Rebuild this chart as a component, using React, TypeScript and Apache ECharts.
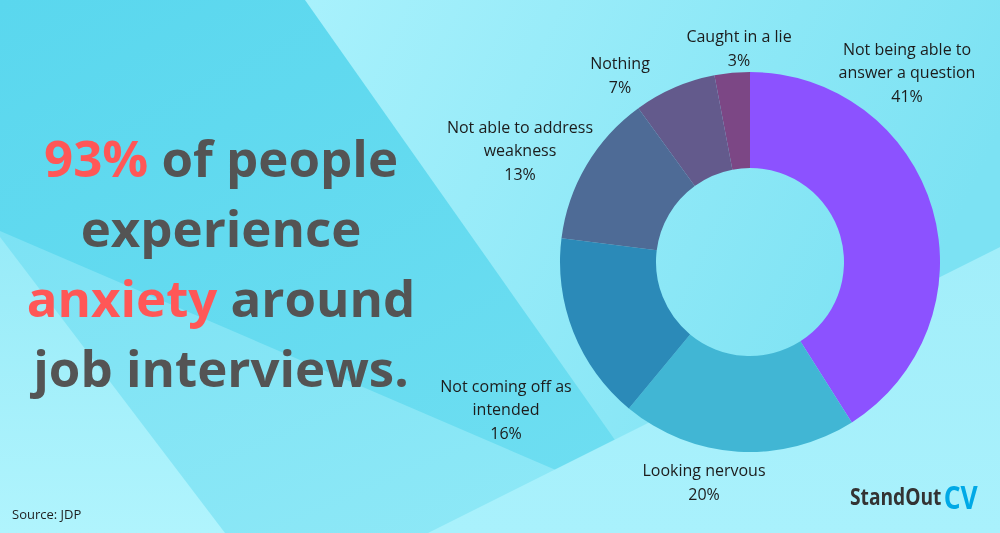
import React, { useEffect, useRef } from "react";
import * as echarts from "echarts";

const categories = [
  "Not being able to\nanswer a question",
  "Looking nervous",
  "Not coming off as\nintended",
  "Not able to address\nweakness",
  "Nothing",
  "Caught in a lie",
];
const values = [41, 20, 16, 13, 7, 3];
const sliceColors = ["#8c52ff", "#41b6d4", "#2b8ab8", "#4e6b96", "#635a8c", "#7c4785"];
// label block centres (layout only)
const labelAnchors: [number, number][] = [
  [907, 72],
  [704, 482],
  [506, 409],
  [520, 150],
  [620, 75],
  [739, 48],
];

const headline = "{r|93%} of people\nexperience\n{r|anxiety} around\njob interviews.";

export default function App() {
  const ref = useRef<HTMLDivElement>(null);
  useEffect(() => {
    if (!ref.current) return;
    const chart = echarts.init(ref.current, null, { renderer: "svg" });
    const lin = (x: number, y: number, x2: number, y2: number, c1: string, c2: string) => ({
      type: "linear", x, y, x2, y2,
      colorStops: [{ offset: 0, color: c1 }, { offset: 1, color: c2 }],
    });
    const headFont = '"Open Sans", sans-serif';
    const hs = 51;
    chart.setOption({
      animation: false,
      graphic: [
        { type: "rect", z: 0, silent: true, shape: { x: 0, y: 0, width: 1000, height: 533 },
          style: { fill: lin(0, 0, 1, 1, "#5ad7ee", "#74e0f2") } },
        { type: "polygon", z: 1, silent: true,
          shape: { points: [[0, 231], [700, 532], [700, 533], [0, 533]] },
          style: { fill: lin(0, 0, 1, 1, "#7ce2f4", "#90e9f7") } },
        { type: "polygon", z: 2, silent: true,
          shape: { points: [[305, 0], [1000, 0], [1000, 247], [615, 440]] },
          style: { fill: lin(0, 0, 1, 0.3, "#a8f1fc", "#7ce2f3") } },
        { type: "polygon", z: 3, silent: true,
          shape: { points: [[1000, 247], [1000, 533], [428, 533]] },
          style: { fill: lin(0, 0, 0, 1, "#a2eefa", "#a9f1fc") } },
        { type: "polygon", z: 4, silent: true,
          shape: { points: [[0, 237], [225, 533], [0, 533]] },
          style: { fill: lin(0, 0, 0, 1, "#98ebf8", "#b0f4fd") } },
        { type: "text", z: 10, silent: true, x: 221, y: 122,
          style: {
            text: headline,
            align: "center",
            verticalAlign: "top",
            fill: "#545454",
            font: `700 ${hs}px ${headFont}`,
            lineHeight: 70,
            rich: {
              r: { fill: "#ff5757", fontSize: hs, fontWeight: 700, fontFamily: headFont, lineHeight: 70 },
            },
          } },
        { type: "text", z: 10, silent: true, x: 12, y: 514,
          style: { text: "Source: JDP", fill: "#1f1f1f", font: '13px "Open Sans", sans-serif', verticalAlign: "middle" } },
        { type: "text", z: 10, silent: true, x: 850, y: 496, scaleX: 0.8,
          style: {
            text: "{a|StandOut}{s| }{b|CV}",
            verticalAlign: "middle",
            rich: {
              a: { fill: "#333333", fontSize: 24, fontWeight: 700, fontFamily: '"Open Sans", sans-serif' },
              s: { fontSize: 10 },
              b: { fill: "#00a9e6", fontSize: 33, fontWeight: 700, fontFamily: '"Open Sans", sans-serif' },
            },
          } },
      ],
      series: [
        {
          type: "pie",
          z: 5,
          silent: true,
          center: [750, 262],
          radius: [94, 190],
          startAngle: 90,
          clockwise: true,
          avoidLabelOverlap: false,
          itemStyle: { borderWidth: 0 },
          emphasis: { disabled: true },
          labelLine: { show: false },
          label: {
            show: true,
            position: "outside",
            formatter: "{b}\n{c}%",
            color: "#1c1c1c",
            fontSize: 16,
            lineHeight: 23.5,
            fontFamily: '"Open Sans", sans-serif',
            align: "center",
          },
          labelLayout: (p: any) => {
            const a = labelAnchors[p.dataIndex];
            return { x: a[0], y: a[1], align: "center", verticalAlign: "middle" };
          },
          data: categories.map((name, i) => ({
            name,
            value: values[i],
            itemStyle: { color: sliceColors[i] },
          })),
        },
      ],
    });
    return () => chart.dispose();
  }, []);
  return (
    <div
      ref={ref}
      style={{ position: "fixed", left: 0, top: 0, width: 1000, height: 533 }}
    />
  );
}
